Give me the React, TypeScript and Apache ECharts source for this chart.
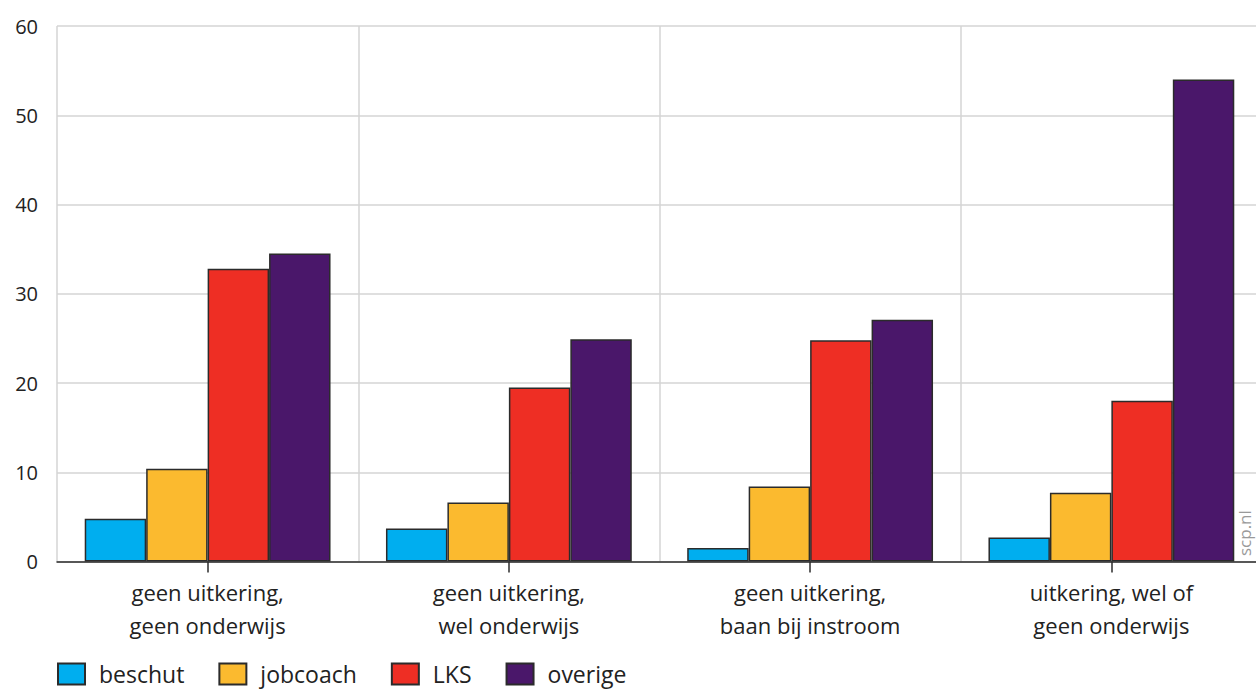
import React, { useEffect, useRef } from "react";
import * as echarts from "echarts";

const categories = [
  "geen uitkering,\ngeen onderwijs",
  "geen uitkering,\nwel onderwijs",
  "geen uitkering,\nbaan bij instroom",
  "uitkering, wel of\ngeen onderwijs",
];
const beschut = [4.8, 3.7, 1.5, 2.7];
const jobcoach = [10.4, 6.6, 8.4, 7.7];
const lks = [32.8, 19.5, 24.8, 18.0];
const overige = [34.5, 24.9, 27.1, 54.0];
const seriesNames = ["beschut", "jobcoach", "LKS", "overige"];
const seriesColors = ["#00AEEF", "#FBBA2F", "#EE2E24", "#4A176A"];
const yTicks = [0, 10, 20, 30, 40, 50, 60];

const FONT = "'Open Sans', 'Noto Sans', sans-serif";

export default function App() {
  const ref = useRef<HTMLDivElement>(null);
  useEffect(() => {
    document.body.style.margin = "0";
    const chart = echarts.init(ref.current!, null, { renderer: "svg" });
    const data = [beschut, jobcoach, lks, overige];
    chart.setOption({
      animation: false,
      textStyle: { fontFamily: FONT },
      grid: { left: 57, width: 1205, top: 26, height: 535.5, containLabel: false, outerBoundsMode: "none" },
      xAxis: {
        type: "category",
        data: categories,
        boundaryGap: true,
        axisLine: { show: true, lineStyle: { color: "#2b2b2b", width: 1.5 } },
        axisTick: { show: true, alignWithLabel: true, length: 11, lineStyle: { color: "#2b2b2b", width: 1.5 } },
        axisLabel: {
          color: "#222",
          fontSize: 22,
          lineHeight: 33,
          margin: 14,
          fontFamily: FONT,
        },
        splitLine: { show: true, lineStyle: { color: "#d4d4d4", width: 1.5 } },
      },
      yAxis: {
        type: "value",
        min: yTicks[0],
        max: yTicks[yTicks.length - 1],
        interval: 10,
        axisLine: { show: false },
        axisTick: { show: false },
        axisLabel: { color: "#222", fontSize: 20, margin: 19, fontFamily: FONT },
        splitLine: { show: true, lineStyle: { color: "#d4d4d4", width: 1.5 } },
      },
      legend: {
        left: 57,
        top: 661,
        padding: 0,
        itemWidth: 27,
        itemHeight: 21,
        itemGap: 34,
        icon: "rect",
        textStyle: { color: "#222", fontSize: 23, lineHeight: 26, fontFamily: FONT, padding: [0, 0, 0, 9] },
        data: seriesNames,
      },
      graphic: [
        {
          type: "text",
          x: 1253,
          y: 556,
          rotation: Math.PI / 2,
          style: { text: "scp.nl", fill: "#9a9a9a", fontSize: 17, fontFamily: FONT, textAlign: "left", textVerticalAlign: "bottom" },
        },
      ],
      series: seriesNames.map((name, i) => ({
        name,
        type: "bar",
        data: data[i],
        barGap: "0%",
        barCategoryGap: "18.4%",
        itemStyle: { color: seriesColors[i], borderColor: "#2b2b2b", borderWidth: 1.5 },
      })),
    });
    return () => chart.dispose();
  }, []);
  return <div ref={ref} style={{ width: 1256, height: 689 }} />;
}
